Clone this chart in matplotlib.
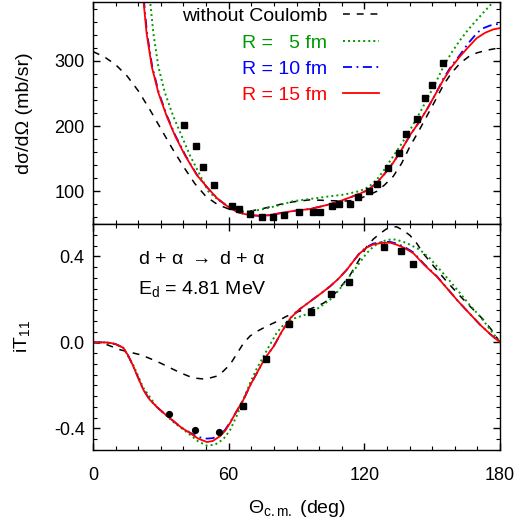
import matplotlib
matplotlib.use("Agg")
import matplotlib.pyplot as plt
from matplotlib.ticker import MultipleLocator

plt.rcParams['font.family'] = ['Liberation Sans', 'DejaVu Sans']
plt.rcParams['mathtext.fontset'] = 'custom'
plt.rcParams['mathtext.rm'] = 'Liberation Sans'
plt.rcParams['mathtext.it'] = 'Liberation Sans:italic'
plt.rcParams['mathtext.default'] = 'regular'

# ---- upper panel: cross section (mb/sr) ----
xs_exp_theta = [40.4, 45.4, 48.5, 53.5, 61.6, 64.7, 69.4, 74.6, 79.5, 84.3, 91.0, 97.4,
                100.5, 105.8, 108.8, 113.7, 117.0, 122.0, 125.5, 130.3, 135.2, 138.4,
                143.4, 146.8, 150.0, 154.9]
xs_exp = [201, 169, 138, 109, 77, 72.5, 65, 60, 60, 64, 69, 69,
          69, 77, 80, 80, 92, 100, 112, 136, 159, 188,
          211, 243, 263, 296]

xs_nocoul_theta = [0, 5, 10, 15, 20, 25, 30, 35, 40, 45, 50, 55, 60, 63.5, 66.5, 70, 75,
                   82.7, 88.6, 96, 103.4, 110.7, 114.5, 118, 121.5, 125.5, 129, 132.8,
                   136.5, 140.2, 144, 147.6, 151.5, 155, 158.5, 162.3, 166, 169.7, 174,
                   178.5, 180]
xs_nocoul = [314, 306, 294, 277, 254, 226, 196, 166, 138, 112, 92, 80, 73, 70, 69, 70, 73.5,
             80, 84, 87, 86, 85, 86, 89, 94, 100, 110, 123,
             143, 169, 192, 215, 240, 263, 281, 296, 306, 312, 316,
             319, 320]

xs_r5_theta = [23, 25.2, 26.7, 28.9, 31.8, 35.5, 39.2, 42.9, 47.3, 51, 55, 60.6, 66.5, 70,
               75, 82.7, 88.6, 97.4, 104.8, 111, 118, 122, 125.5, 129, 132.8, 136.5,
               140.2, 144, 147.6, 151.5, 155, 158.5, 162.3, 166, 169.7, 173.5, 177, 180]
xs_r5 = [460, 393, 342, 291, 251, 215, 185, 155, 125, 100, 88, 75, 69, 69.5,
         72.6, 79, 85, 89, 92.5, 95, 100.5, 107, 118, 134, 154, 173,
         194, 217, 240, 266, 291, 312, 331.5, 348, 362.5, 377, 390, 398]

xs_r10_theta = [20, 22.5, 23.9, 26.2, 29.1, 32.8, 36.5, 40.9, 46, 50.5, 55, 60.6, 65, 69.4,
                74, 78, 82.7, 88.6, 96, 103.4, 110, 118, 122, 125.5, 129, 132.8, 136.5,
                140.2, 144, 147.6, 151.5, 155, 158.5, 162.3, 166, 169.7, 172, 175.6, 180]
xs_r10 = [480, 393, 342, 291, 251, 215, 185, 155, 125, 106, 89, 74, 67, 63.5,
          62.5, 63.5, 66.5, 70, 73, 79, 86, 96.3, 103, 113, 127, 144, 164,
          186, 205, 225, 249, 273, 292, 309, 327, 342, 349, 354, 357]

xs_r15_theta = [20, 22.3, 23.7, 26, 28.9, 32.6, 36.3, 40.7, 45.9, 50.5, 55, 60.6, 65, 69.4,
                74, 78, 82.7, 88.6, 96, 103.4, 110, 118, 122, 125.5, 129, 132.8, 136.5,
                140.2, 144, 147.6, 151.5, 155, 158.5, 162.3, 166, 169.7, 173.5, 177, 180]
xs_r15 = [480, 393, 342, 291, 251, 215, 185, 155, 125, 106, 89, 74, 67, 63.5,
          62.5, 63.5, 66.5, 70, 73, 79, 86, 96.3, 103, 113, 127, 144, 164,
          186, 205, 225, 249, 271, 290, 306.6, 321, 334.6, 343, 348, 350]

# ---- lower panel: iT11 ----
it_exp_theta = [33.8, 45.0, 55.9, 66.2, 76.6, 86.8, 96.3, 105.1, 113.4, 128.5, 136.4, 141.6]
it_exp = [-0.331, -0.407, -0.417, -0.296, -0.077, 0.085, 0.141, 0.225, 0.280, 0.445, 0.425, 0.363]
it_err = [0.006, 0.006, 0.006, 0.008, 0.008, 0.015, 0.008, 0.015, 0.008, 0.015, 0.008, 0.01]
it_circle = [True, True, True, False, False, False, False, False, False, False, False, False]

it_nocoul_theta = [0, 5, 11.9, 16, 20.8, 24.5, 28.2, 32, 35.6, 39.5, 43, 46, 48.8, 51.5, 54.7,
                   57.5, 60.6, 63.5, 66.6, 69.5, 72.5, 76.8, 81.3, 85, 88.6, 92, 96, 99,
                   101.9, 105, 107.8, 110.5, 113.7, 117.5, 121, 124, 127, 129.5, 131.4,
                   134.3, 137.3, 140.2, 143.2, 146, 150.6, 156.5, 162.3, 166.8, 172.7,
                   176.5, 180]
it_nocoul = [0, -0.006, -0.034, -0.045, -0.057, -0.072, -0.088, -0.107, -0.126, -0.145,
             -0.16, -0.167, -0.17, -0.166, -0.157, -0.135, -0.103, -0.055, -0.003, 0.03,
             0.051, 0.075, 0.097, 0.118, 0.136, 0.147, 0.155, 0.168, 0.182, 0.205, 0.236,
             0.27, 0.313, 0.38, 0.444, 0.48, 0.506, 0.525, 0.535, 0.537, 0.52, 0.497,
             0.46, 0.414, 0.355, 0.282, 0.216, 0.167, 0.105, 0.055, 0]

it_r5_theta = [0, 5, 10, 13.4, 17.8, 22.2, 28.2, 35.6, 43, 46.5, 50.4, 54, 57.6, 60.5, 63.5,
               66.5, 69.5, 72.5, 75.4, 78.3, 81.3, 84.5, 88.6, 92, 96, 100.5, 104.8, 108.5,
               112.2, 116.5, 121, 124, 127, 130, 132.9, 136.5, 139, 144.6, 149, 153.5,
               158, 162.3, 166.5, 171.2, 176, 180]
it_r5 = [0, 0, -0.008, -0.025, -0.105, -0.21, -0.3, -0.37, -0.43, -0.46, -0.48, -0.475,
         -0.45, -0.41, -0.343, -0.265, -0.188, -0.12, -0.065, -0.01, 0.045, 0.085, 0.11,
         0.122, 0.136, 0.165, 0.198, 0.24, 0.29, 0.35, 0.414, 0.445, 0.465, 0.476, 0.479,
         0.47, 0.46, 0.43, 0.39, 0.337, 0.283, 0.229, 0.175, 0.12, 0.055, 0]

it_r10_theta = [0, 5, 7.5, 10, 13.4, 15.5, 17.8, 20, 22.2, 25, 28.2, 32, 35.6, 39, 43, 46.5,
                50.4, 53, 56.3, 58.5, 60.7, 63.5, 66.6, 69.5, 72.5, 76, 79.9, 83.5, 87.3,
                91.5, 96, 100.5, 104.8, 108.5, 112.2, 115, 118, 121, 124, 128.4, 131.4,
                134, 137.5, 141.7, 146.5, 152, 156.5, 160.9, 166, 171.2, 175.5, 180]
it_r10 = [0, 0, -0.002, -0.008, -0.025, -0.06, -0.111, -0.165, -0.219, -0.265, -0.3,
          -0.335, -0.366, -0.395, -0.42, -0.44, -0.447, -0.445, -0.43, -0.405, -0.37,
          -0.32, -0.265, -0.2, -0.142, -0.075, -0.0185, 0.05, 0.113, 0.155, 0.19, 0.225,
          0.26, 0.295, 0.337, 0.376, 0.416, 0.443, 0.459, 0.467, 0.467, 0.46, 0.445,
          0.418, 0.363, 0.308, 0.253, 0.198, 0.14, 0.082, 0.04, 0]

it_r15_theta = [0, 5, 7.5, 10, 13.4, 15.5, 17.8, 20, 22.2, 25, 28.2, 32, 35.6, 39, 43, 46.5,
                50.4, 53, 56.3, 58.5, 60.7, 63.5, 66.6, 69.5, 72.5, 76, 79.9, 83.5, 87.3,
                91.5, 96, 100.5, 104.8, 108.5, 112.2, 115, 118, 121, 124, 128.4, 131.4,
                134, 137.5, 141.7, 146.5, 152, 156.5, 160.9, 166, 171.2, 175.5, 180]
it_r15 = [0, 0, -0.002, -0.008, -0.025, -0.06, -0.111, -0.165, -0.219, -0.265, -0.3,
          -0.335, -0.366, -0.395, -0.422, -0.447, -0.463, -0.458, -0.435, -0.41, -0.373,
          -0.32, -0.265, -0.2, -0.142, -0.075, -0.0185, 0.05, 0.113, 0.155, 0.19, 0.225,
          0.26, 0.295, 0.337, 0.375, 0.414, 0.44, 0.455, 0.463, 0.463, 0.455, 0.44,
          0.414, 0.36, 0.306, 0.252, 0.198, 0.14, 0.082, 0.04, 0]

labels = ['without Coulomb', 'R =   5 fm', 'R = 10 fm', 'R = 15 fm']
green = '#009a00'

fig = plt.figure(figsize=(5.27, 5.19), dpi=100)
ax1 = fig.add_axes([93 / 527, 1 - 224 / 519, 407 / 527, 222 / 519])
ax2 = fig.add_axes([93 / 527, 1 - 450 / 519, 407 / 527, 226 / 519])

# upper panel
ax1.plot(xs_nocoul_theta, xs_nocoul, color='black', lw=1.1, dashes=(4.5, 4.5), label=labels[0])
ax1.plot(xs_r5_theta, xs_r5, color=green, lw=1.4, dashes=(1, 1.6), label=labels[1])
ax1.plot(xs_r10_theta, xs_r10, color='blue', lw=1.3, dashes=(5, 2.5, 1, 2.5), label=labels[2])
ax1.plot(xs_r15_theta, xs_r15, color='red', lw=1.3, label=labels[3])
ax1.plot(xs_exp_theta, xs_exp, 's', color='black', ms=4.2, zorder=5)

leg = ax1.legend(loc='upper right', bbox_to_anchor=(0.702, 0.975), frameon=False,
                 markerfirst=False, labelcolor='linecolor', fontsize=14,
                 handlelength=1.85, handletextpad=0.8, labelspacing=0.45,
                 borderpad=0, borderaxespad=0)

ax1.set_xlim(0, 180)
ax1.set_ylim(50, 390)
ax1.set_ylabel('dσ/dΩ (mb/sr)', fontsize=14)
ax1.yaxis.set_label_coords(-0.148, 0.5)
ax1.tick_params(labelbottom=False)
ax1.yaxis.set_major_locator(MultipleLocator(100))
ax1.yaxis.set_minor_locator(MultipleLocator(20))

# lower panel
ax2.plot(it_nocoul_theta, it_nocoul, color='black', lw=1.1, dashes=(4.5, 4.5))
ax2.plot(it_r5_theta, it_r5, color=green, lw=1.4, dashes=(1, 1.6))
ax2.plot(it_r10_theta, it_r10, color='blue', lw=1.3, dashes=(5, 2.5, 1, 2.5))
ax2.plot(it_r15_theta, it_r15, color='red', lw=1.3)
for t, v, e, c in zip(it_exp_theta, it_exp, it_err, it_circle):
    ax2.errorbar(t, v, yerr=e, fmt='o' if c else 's', color='black', ms=4.2,
                 elinewidth=1, capsize=0, zorder=5)

ax2.text(0.11, 0.823, 'd + α $\\rightarrow$ d + α', transform=ax2.transAxes, fontsize=14,
         va='baseline')
ax2.text(0.11, 0.69, 'E$_d$ = 4.81 MeV', transform=ax2.transAxes, fontsize=14, va='baseline')

ax2.set_xlim(0, 180)
ax2.set_ylim(-0.5, 0.55)
ax2.set_ylabel('iT$_{11}$', fontsize=14)
ax2.yaxis.set_label_coords(-0.15, 0.5)
ax2.set_xlabel('Θ$_{c.m.}$ (deg)', fontsize=14, labelpad=10)
ax2.set_xticks([0, 60, 120, 180])
ax2.set_yticks([-0.4, 0.0, 0.4])
ax2.set_yticklabels(['-0.4', '0.0', '0.4'])
ax2.yaxis.set_minor_locator(MultipleLocator(0.05))

for ax in (ax1, ax2):
    ax.xaxis.set_major_locator(MultipleLocator(60))
    ax.xaxis.set_minor_locator(MultipleLocator(10))
    ax.tick_params(which='both', direction='in', top=True, right=True, labelsize=13)
    ax.tick_params(which='major', length=5, width=1)
    ax.tick_params(which='minor', length=3, width=0.8)
    ax.tick_params(axis='y', pad=6)
    ax.tick_params(axis='x', pad=12)
    for s in ax.spines.values():
        s.set_linewidth(1.0)

fig.savefig('out.png', dpi=100)
